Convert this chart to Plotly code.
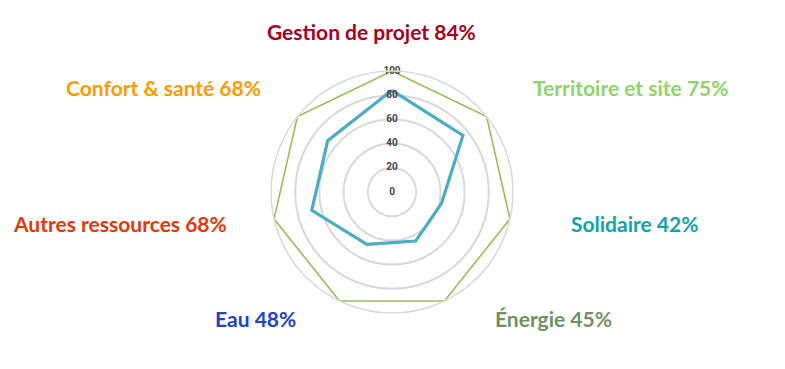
import plotly.graph_objects as go

categories = ["Gestion de projet", "Territoire et site", "Solidaire", "Énergie",
              "Eau", "Autres ressources", "Confort & santé"]
scores = [84, 75, 42, 45, 48, 68, 68]
max_scores = [100, 100, 100, 100, 100, 100, 100]
radial_ticks = [0, 20, 40, 60, 80, 100]
label_colors = ["#A8001C", "#8FD468", "#12A2AE", "#6F915F",
                "#2141C9", "#E2380A", "#FF9A00"]
# label centre positions in window pixels
label_x = [371, 630, 634, 553, 255, 120, 163]
label_y = [31, 87, 223, 318, 318, 223, 87]

PAGE_MARGIN = 8  # default body margin of the html page
W, H = 785 - 2 * PAGE_MARGIN, 369 - 2 * PAGE_MARGIN
cx, cy, R = 392 - PAGE_MARGIN, 192 - PAGE_MARGIN, 121

fig = go.Figure()

fig.add_trace(go.Scatterpolar(
    r=max_scores + max_scores[:1],
    theta=categories + categories[:1],
    mode="lines",
    line=dict(color="#9BBB59", width=1.6),
    hoverinfo="skip",
    showlegend=False,
))
fig.add_trace(go.Scatterpolar(
    r=scores + scores[:1],
    theta=categories + categories[:1],
    mode="lines",
    line=dict(color="#4BACC6", width=3.2),
    showlegend=False,
))
fig.add_trace(go.Scatterpolar(
    r=radial_ticks,
    theta=[categories[0]] * len(radial_ticks),
    mode="text",
    text=[str(t) for t in radial_ticks],
    textposition="middle center",
    textfont=dict(family="Roboto", size=10, color="#444444", weight="bold"),
    hoverinfo="skip",
    showlegend=False,
))

for name, val, col, x, y in zip(categories, scores, label_colors, label_x, label_y):
    fig.add_annotation(
        text=f"{name} {val}%",
        x=(x - PAGE_MARGIN) / W, y=1 - (y - PAGE_MARGIN) / H,
        xref="paper", yref="paper",
        xanchor="center", yanchor="middle",
        showarrow=False,
        font=dict(family="Lato", size=21, color=col, weight="bold"),
    )

fig.update_layout(
    width=W, height=H,
    margin=dict(l=0, r=0, t=0, b=0),
    paper_bgcolor="white",
    plot_bgcolor="white",
    polar=dict(
        domain=dict(x=[(cx - R) / W, (cx + R) / W],
                    y=[(H - cy - R) / H, (H - cy + R) / H]),
        bgcolor="white",
        radialaxis=dict(
            range=[0, 100],
            tickvals=radial_ticks[1:],
            showticklabels=False,
            ticks="",
            showline=False,
            gridcolor="#D9D9D9",
            gridwidth=1.5,
        ),
        angularaxis=dict(
            direction="clockwise",
            rotation=90,
            showticklabels=False,
            ticks="",
            showgrid=False,
            showline=True,
            linecolor="#D9D9D9",
            linewidth=1.5,
        ),
    ),
)

fig.write_html("out.html")
